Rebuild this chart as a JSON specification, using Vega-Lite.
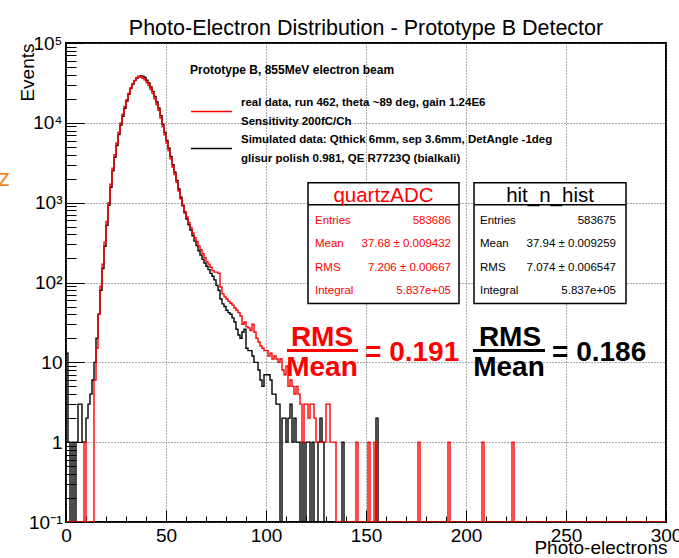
{
 "$schema": "https://vega.github.io/schema/vega-lite/v6.json",
 "width": 600,
 "height": 479,
 "autosize": {"type": "none"},
 "padding": {"left": 66, "top": 43, "right": 13, "bottom": 36},
 "background": "white",
 "title": {"text": "Photo-Electron Distribution - Prototype B Detector", "font": "Liberation Sans", "fontSize": 21.5, "fontWeight": "normal", "color": "#000", "anchor": "middle", "frame": "group", "offset": -5},
 "data": {"values": [
{"x":0,"r":0,"b":13},{"x":1,"r":0,"b":1},{"x":2,"r":0,"b":0},{"x":3,"r":0,"b":1},{"x":4,"r":0,"b":0},{"x":5,"r":0,"b":1},{"x":6,"r":0,"b":3},{"x":7,"r":0,"b":3},{"x":8,"r":0,"b":1},{"x":9,"r":1,"b":1},
{"x":10,"r":0,"b":2},{"x":11,"r":0,"b":3},{"x":12,"r":0,"b":4},{"x":13,"r":0,"b":6},{"x":14,"r":6,"b":10},{"x":15,"r":15,"b":20},{"x":16,"r":40,"b":40},{"x":17,"r":90,"b":80},{"x":18,"r":170,"b":150},{"x":19,"r":320,"b":285},
{"x":20,"r":580,"b":520},{"x":21,"r":1000,"b":930},{"x":22,"r":1700,"b":1560},{"x":23,"r":2700,"b":2500},{"x":24,"r":4000,"b":3700},{"x":25,"r":5600,"b":5200},{"x":26,"r":7600,"b":7150},{"x":27,"r":10000,"b":9400},{"x":28,"r":12800,"b":12100},{"x":29,"r":16000,"b":15200},
{"x":30,"r":19500,"b":18800},{"x":31,"r":23500,"b":22700},{"x":32,"r":27500,"b":26800},{"x":33,"r":31000,"b":30500},{"x":34,"r":34000,"b":33800},{"x":35,"r":36500,"b":36500},{"x":36,"r":38000,"b":38000},{"x":37,"r":37500,"b":38800},{"x":38,"r":36000,"b":38500},{"x":39,"r":34500,"b":36900},
{"x":40,"r":32000,"b":34200},{"x":41,"r":29500,"b":31600},{"x":42,"r":26300,"b":28100},{"x":43,"r":23200,"b":24800},{"x":44,"r":20000,"b":21400},{"x":45,"r":17000,"b":18200},{"x":46,"r":14400,"b":15400},{"x":47,"r":11500,"b":12300},{"x":48,"r":9000,"b":9600},{"x":49,"r":7100,"b":7600},
{"x":50,"r":5600,"b":6000},{"x":51,"r":4500,"b":4800},{"x":52,"r":3550,"b":3800},{"x":53,"r":2800,"b":3000},{"x":54,"r":2250,"b":2400},{"x":55,"r":1800,"b":1900},{"x":56,"r":1400,"b":1480},{"x":57,"r":1120,"b":1170},{"x":58,"r":910,"b":930},{"x":59,"r":776,"b":745},
{"x":60,"r":660,"b":625},{"x":61,"r":562,"b":530},{"x":62,"r":490,"b":455},{"x":63,"r":417,"b":385},{"x":64,"r":363,"b":330},{"x":65,"r":324,"b":290},{"x":66,"r":288,"b":250},{"x":67,"r":257,"b":220},{"x":68,"r":229,"b":195},{"x":69,"r":204,"b":175},
{"x":70,"r":182,"b":160},{"x":71,"r":170,"b":145},{"x":72,"r":155,"b":130},{"x":73,"r":141,"b":120},{"x":74,"r":135,"b":108},{"x":75,"r":135,"b":92},{"x":76,"r":130,"b":80},{"x":77,"r":88,"b":62},{"x":78,"r":72,"b":54},{"x":79,"r":66,"b":50},
{"x":80,"r":62,"b":45},{"x":81,"r":58,"b":42},{"x":82,"r":55,"b":40},{"x":83,"r":52,"b":36},{"x":84,"r":48,"b":32},{"x":85,"r":45,"b":26},{"x":86,"r":42,"b":22},{"x":87,"r":38,"b":20},{"x":88,"r":30,"b":24},{"x":89,"r":32,"b":26},
{"x":90,"r":28,"b":15},{"x":91,"r":27,"b":14},{"x":92,"r":25,"b":14},{"x":93,"r":30,"b":12},{"x":94,"r":24,"b":10},{"x":95,"r":20,"b":10},{"x":96,"r":18,"b":8},{"x":97,"r":16,"b":6},{"x":98,"r":15,"b":5},{"x":99,"r":14,"b":7},
{"x":100,"r":14,"b":7},{"x":101,"r":12,"b":7},{"x":102,"r":13,"b":6},{"x":103,"r":11,"b":4},{"x":104,"r":12,"b":4},{"x":105,"r":11,"b":3},{"x":106,"r":10,"b":3},{"x":107,"r":11,"b":0},{"x":108,"r":8,"b":2},{"x":109,"r":7,"b":2},
{"x":110,"r":9,"b":1},{"x":111,"r":5,"b":2},{"x":112,"r":6,"b":3},{"x":113,"r":5,"b":1},{"x":114,"r":4,"b":2},{"x":115,"r":5,"b":1},{"x":116,"r":4,"b":1},{"x":117,"r":3,"b":0},{"x":118,"r":1,"b":1},{"x":119,"r":3,"b":0},
{"x":120,"r":3,"b":1},{"x":121,"r":2,"b":1},{"x":122,"r":3,"b":0},{"x":123,"r":3,"b":1},{"x":124,"r":2,"b":0},{"x":125,"r":1,"b":0},{"x":126,"r":1,"b":1},{"x":127,"r":1,"b":2},{"x":128,"r":1,"b":1},{"x":129,"r":1,"b":0},
{"x":130,"r":3,"b":0},{"x":131,"r":3,"b":0},{"x":132,"r":1,"b":0},{"x":133,"r":1,"b":0},{"x":134,"r":1,"b":0},{"x":135,"r":0,"b":0},{"x":136,"r":0,"b":0},{"x":137,"r":0,"b":0},{"x":138,"r":0,"b":1},{"x":139,"r":0,"b":0},
{"x":140,"r":0,"b":0},{"x":141,"r":0,"b":0},{"x":142,"r":0,"b":0},{"x":143,"r":0,"b":0},{"x":144,"r":0,"b":0},{"x":145,"r":1,"b":0},{"x":146,"r":0,"b":0},{"x":147,"r":0,"b":0},{"x":148,"r":0,"b":0},{"x":149,"r":0,"b":0},
{"x":150,"r":0,"b":0},{"x":151,"r":1,"b":0},{"x":152,"r":0,"b":0},{"x":153,"r":0,"b":0},{"x":154,"r":1,"b":0},{"x":155,"r":0,"b":2},{"x":156,"r":0,"b":0},{"x":157,"r":0,"b":0},{"x":158,"r":0,"b":0},{"x":159,"r":0,"b":0},
{"x":160,"r":0,"b":0},{"x":161,"r":0,"b":0},{"x":162,"r":0,"b":0},{"x":163,"r":0,"b":0},{"x":164,"r":0,"b":0},{"x":165,"r":0,"b":0},{"x":166,"r":0,"b":0},{"x":167,"r":0,"b":0},{"x":168,"r":0,"b":0},{"x":169,"r":0,"b":0},
{"x":170,"r":0,"b":0},{"x":171,"r":0,"b":0},{"x":172,"r":0,"b":0},{"x":173,"r":0,"b":0},{"x":174,"r":0,"b":0},{"x":175,"r":0,"b":0},{"x":176,"r":1,"b":0},{"x":177,"r":0,"b":0},{"x":178,"r":0,"b":0},{"x":179,"r":0,"b":0},
{"x":180,"r":0,"b":0},{"x":181,"r":0,"b":0},{"x":182,"r":0,"b":0},{"x":183,"r":0,"b":0},{"x":184,"r":0,"b":0},{"x":185,"r":0,"b":0},{"x":186,"r":0,"b":0},{"x":187,"r":0,"b":0},{"x":188,"r":0,"b":0},{"x":189,"r":0,"b":0},
{"x":190,"r":0,"b":0},{"x":191,"r":1,"b":0},{"x":192,"r":0,"b":0},{"x":193,"r":0,"b":0},{"x":194,"r":0,"b":0},{"x":195,"r":0,"b":0},{"x":196,"r":0,"b":0},{"x":197,"r":0,"b":0},{"x":198,"r":0,"b":0},{"x":199,"r":0,"b":0},
{"x":200,"r":0,"b":0},{"x":201,"r":0,"b":0},{"x":202,"r":0,"b":0},{"x":203,"r":0,"b":0},{"x":204,"r":0,"b":0},{"x":205,"r":0,"b":0},{"x":206,"r":0,"b":0},{"x":207,"r":0,"b":0},{"x":208,"r":1,"b":0},{"x":209,"r":0,"b":0},
{"x":210,"r":0,"b":0},{"x":211,"r":0,"b":0},{"x":212,"r":0,"b":0},{"x":213,"r":0,"b":0},{"x":214,"r":0,"b":0},{"x":215,"r":0,"b":0},{"x":216,"r":0,"b":0},{"x":217,"r":0,"b":0},{"x":218,"r":0,"b":0},{"x":219,"r":0,"b":0},
{"x":220,"r":0,"b":0},{"x":221,"r":0,"b":0},{"x":222,"r":0,"b":0},{"x":223,"r":1,"b":0},{"x":224,"r":0,"b":0},{"x":225,"r":0,"b":0},{"x":226,"r":0,"b":0},{"x":227,"r":0,"b":0},{"x":228,"r":0,"b":0},{"x":229,"r":0,"b":0},
{"x":230,"r":0,"b":0},{"x":231,"r":0,"b":0},{"x":232,"r":0,"b":0},{"x":233,"r":0,"b":0},{"x":234,"r":0,"b":0},{"x":235,"r":0,"b":0},{"x":236,"r":0,"b":0},{"x":237,"r":0,"b":0},{"x":238,"r":0,"b":0},{"x":239,"r":0,"b":0},
{"x":240,"r":0,"b":0},{"x":241,"r":0,"b":0},{"x":242,"r":0,"b":0},{"x":243,"r":0,"b":0},{"x":244,"r":0,"b":0},{"x":245,"r":0,"b":0},{"x":246,"r":0,"b":0},{"x":247,"r":0,"b":0},{"x":248,"r":0,"b":0},{"x":249,"r":0,"b":0},
{"x":250,"r":0,"b":0},{"x":251,"r":0,"b":0},{"x":252,"r":0,"b":0},{"x":253,"r":0,"b":0},{"x":254,"r":0,"b":0},{"x":255,"r":0,"b":0},{"x":256,"r":0,"b":0},{"x":257,"r":0,"b":0},{"x":258,"r":0,"b":0},{"x":259,"r":0,"b":0},
{"x":260,"r":0,"b":0},{"x":261,"r":0,"b":0},{"x":262,"r":0,"b":0},{"x":263,"r":0,"b":0},{"x":264,"r":0,"b":0},{"x":265,"r":0,"b":0},{"x":266,"r":0,"b":0},{"x":267,"r":0,"b":0},{"x":268,"r":0,"b":0},{"x":269,"r":0,"b":0},
{"x":270,"r":0,"b":0},{"x":271,"r":0,"b":0},{"x":272,"r":0,"b":0},{"x":273,"r":0,"b":0},{"x":274,"r":0,"b":0},{"x":275,"r":0,"b":0},{"x":276,"r":0,"b":0},{"x":277,"r":0,"b":0},{"x":278,"r":0,"b":0},{"x":279,"r":0,"b":0},
{"x":280,"r":0,"b":0},{"x":281,"r":0,"b":0},{"x":282,"r":0,"b":0},{"x":283,"r":0,"b":0},{"x":284,"r":0,"b":0},{"x":285,"r":0,"b":0},{"x":286,"r":0,"b":0},{"x":287,"r":0,"b":0},{"x":288,"r":0,"b":0},{"x":289,"r":0,"b":0},
{"x":290,"r":0,"b":0},{"x":291,"r":0,"b":0},{"x":292,"r":0,"b":0},{"x":293,"r":0,"b":0},{"x":294,"r":0,"b":0},{"x":295,"r":0,"b":0},{"x":296,"r":0,"b":0},{"x":297,"r":0,"b":0},{"x":298,"r":0,"b":0},{"x":299,"r":0,"b":0},
{"x":300,"r":0,"b":0}
 ]},
 "layer": [
  {
   "mark": {"type": "line", "interpolate": "step-after", "strokeWidth": 1.4, "clip": true, "invalid": "show"},
   "encoding": {
    "x": {"field": "x", "type": "quantitative", "scale": {"domain": [0, 300], "nice": false, "zero": false},
      "axis": {"orient": "bottom", "values": [0, 50, 100, 150, 200, 250, 300], "grid": true, "tickSize": -12, "labelPadding": 16, "labelFlush": false, "labelOverlap": false, "title": "Photo-electrons", "titleAnchor": "end", "titleAlign": "right", "titleBaseline": "alphabetic", "titleX": 601, "titleY": 31}},
    "y": {"field": "b", "type": "quantitative", "scale": {"type": "log", "domain": [0.1, 100000], "nice": false, "clamp": true},
      "axis": {"orient": "left", "values": [0.1, 1, 10, 100, 1000, 10000, 100000], "grid": true, "tickSize": -18, "labelPadding": 22, "labelFlush": false, "labelOverlap": false, "labelBaseline": "middle",
        "labelExpr": "datum.value == 0.1 ? '10⁻¹' : datum.value == 1 ? '1' : datum.value == 10 ? '10' : datum.value == 100 ? '10²' : datum.value == 1000 ? '10³' : datum.value == 10000 ? '10⁴' : '10⁵'",
        "title": "Events", "titleAnchor": "end", "titleAngle": 270, "titleAlign": "right", "titleBaseline": "alphabetic", "titleX": -33, "titleY": 0}},
    "color": {"datum": "sim", "type": "nominal", "scale": {"domain": ["real", "sim"], "range": ["#ff0000", "#000000"]},
      "legend": {"orient": "none", "legendX": 124, "legendY": 22, "direction": "vertical", "padding": 0,
        "title": "Prototype B, 855MeV electron beam", "titleFont": "Liberation Sans", "titleFontSize": 12, "titleFontWeight": "bold", "titleColor": "#000", "titleLimit": 600, "titlePadding": 13,
        "symbolType": "stroke", "symbolSize": 1681, "symbolStrokeWidth": 1.5,
        "labelExpr": "datum.value == 'real' ? ['real data, run 462, theta ~89 deg, gain 1.24E6', 'Sensitivity 200fC/Ch'] : ['Simulated data: Qthick 6mm, sep 3.6mm, DetAngle -1deg', 'glisur polish 0.981, QE R7723Q (bialkali)']",
        "labelFont": "Liberation Sans", "labelFontSize": 11.5, "labelFontWeight": "bold", "labelColor": "#000", "labelLimit": 700, "labelOffset": 8, "labelBaseline": "line-bottom", "rowPadding": -2}}
   }
  },
  {
   "mark": {"type": "line", "interpolate": "step-after", "strokeWidth": 1.4, "clip": true, "invalid": "show"},
   "encoding": {
    "x": {"field": "x", "type": "quantitative", "scale": {"domain": [0, 300], "nice": false, "zero": false},
      "axis": {"orient": "bottom", "values": [10, 20, 30, 40, 60, 70, 80, 90, 110, 120, 130, 140, 160, 170, 180, 190, 210, 220, 230, 240, 260, 270, 280, 290], "grid": false, "tickSize": -6, "labels": false, "title": null}},
    "y": {"field": "r", "type": "quantitative", "scale": {"type": "log", "domain": [0.1, 100000], "nice": false, "clamp": true},
      "axis": {"orient": "left", "values": [0.2, 0.3, 0.4, 0.5, 0.6, 0.7, 0.8, 0.9, 2, 3, 4, 5, 6, 7, 8, 9, 20, 30, 40, 50, 60, 70, 80, 90, 200, 300, 400, 500, 600, 700, 800, 900, 2000, 3000, 4000, 5000, 6000, 7000, 8000, 9000, 20000, 30000, 40000, 50000, 60000, 70000, 80000, 90000], "grid": false, "tickSize": -10, "labels": false, "title": null}},
    "color": {"datum": "real", "type": "nominal"}
   }
  },
  {
   "data": {"values": [{}]},
   "mark": {"type": "rect", "fill": "#ffffff", "stroke": "#000", "strokeWidth": 1.5},
   "encoding": {"x": {"datum": 121, "type": "quantitative", "axis": null}, "x2": {"datum": 196.5}, "y": {"datum": 1778, "type": "quantitative", "axis": null}, "y2": {"datum": 54.6}}
  },
  {
   "data": {"values": [{}]},
   "mark": {"type": "rule", "stroke": "#000", "strokeWidth": 1.5},
   "encoding": {"x": {"datum": 121, "type": "quantitative", "axis": null}, "x2": {"datum": 196.5}, "y": {"datum": 944, "type": "quantitative", "axis": null}}
  },
  {
   "data": {"values": [{}]},
   "mark": {"type": "text", "text": "quartzADC", "font": "Liberation Sans", "fontSize": 20.5, "color": "#ff0000", "align": "center", "baseline": "alphabetic"},
   "encoding": {"x": {"datum": 158.75, "type": "quantitative", "axis": null}, "y": {"datum": 1029, "type": "quantitative", "axis": null}}
  },
  {
   "data": {"values": [{}]},
   "mark": {"type": "text", "text": ["Entries", "Mean", "RMS", "Integral"], "font": "Liberation Sans", "fontSize": 11.5, "lineHeight": 23.5, "color": "#ff0000", "align": "left", "baseline": "alphabetic"},
   "encoding": {"x": {"datum": 124.5, "type": "quantitative", "axis": null}, "y": {"datum": 546.5, "type": "quantitative", "axis": null}}
  },
  {
   "data": {"values": [{}]},
   "mark": {"type": "text", "text": ["583686", "37.68 ± 0.009432", "7.206 ± 0.00667", "5.837e+05"], "font": "Liberation Sans", "fontSize": 11.5, "lineHeight": 23.5, "color": "#ff0000", "align": "right", "baseline": "alphabetic"},
   "encoding": {"x": {"datum": 192.5, "type": "quantitative", "axis": null}, "y": {"datum": 546.5, "type": "quantitative", "axis": null}}
  },
  {
   "data": {"values": [{}]},
   "mark": {"type": "rect", "fill": "#ffffff", "stroke": "#000", "strokeWidth": 1.5},
   "encoding": {"x": {"datum": 204, "type": "quantitative", "axis": null}, "x2": {"datum": 280}, "y": {"datum": 1778, "type": "quantitative", "axis": null}, "y2": {"datum": 54.6}}
  },
  {
   "data": {"values": [{}]},
   "mark": {"type": "rule", "stroke": "#000", "strokeWidth": 1.5},
   "encoding": {"x": {"datum": 204, "type": "quantitative", "axis": null}, "x2": {"datum": 280}, "y": {"datum": 944, "type": "quantitative", "axis": null}}
  },
  {
   "data": {"values": [{}]},
   "mark": {"type": "text", "text": "hit_n_hist", "font": "Liberation Sans", "fontSize": 20.5, "color": "#000", "align": "center", "baseline": "alphabetic"},
   "encoding": {"x": {"datum": 242, "type": "quantitative", "axis": null}, "y": {"datum": 1029, "type": "quantitative", "axis": null}}
  },
  {
   "data": {"values": [{}]},
   "mark": {"type": "text", "text": ["Entries", "Mean", "RMS", "Integral"], "font": "Liberation Sans", "fontSize": 11.5, "lineHeight": 23.5, "color": "#000", "align": "left", "baseline": "alphabetic"},
   "encoding": {"x": {"datum": 207, "type": "quantitative", "axis": null}, "y": {"datum": 546.5, "type": "quantitative", "axis": null}}
  },
  {
   "data": {"values": [{}]},
   "mark": {"type": "text", "text": ["583675", "37.94 ± 0.009259", "7.074 ± 0.006547", "5.837e+05"], "font": "Liberation Sans", "fontSize": 11.5, "lineHeight": 23.5, "color": "#000", "align": "right", "baseline": "alphabetic"},
   "encoding": {"x": {"datum": 275, "type": "quantitative", "axis": null}, "y": {"datum": 546.5, "type": "quantitative", "axis": null}}
  },
  {
   "data": {"values": [{}]},
   "mark": {"type": "text", "text": "RMS", "font": "Liberation Sans", "fontSize": 28, "fontWeight": "bold", "color": "#ff0000", "align": "center", "baseline": "alphabetic"},
   "encoding": {"x": {"datum": 128, "type": "quantitative", "axis": null}, "y": {"datum": 15.85, "type": "quantitative", "axis": null}}
  },
  {
   "data": {"values": [{}]},
   "mark": {"type": "rule", "stroke": "#ff0000", "strokeWidth": 3},
   "encoding": {"x": {"datum": 110.5, "type": "quantitative", "axis": null}, "x2": {"datum": 146}, "y": {"datum": 14.1, "type": "quantitative", "axis": null}}
  },
  {
   "data": {"values": [{}]},
   "mark": {"type": "text", "text": "Mean", "font": "Liberation Sans", "fontSize": 28, "fontWeight": "bold", "color": "#ff0000", "align": "center", "baseline": "alphabetic"},
   "encoding": {"x": {"datum": 128, "type": "quantitative", "axis": null}, "y": {"datum": 6.68, "type": "quantitative", "axis": null}}
  },
  {
   "data": {"values": [{}]},
   "mark": {"type": "text", "text": "= 0.191", "font": "Liberation Sans", "fontSize": 28, "fontWeight": "bold", "color": "#ff0000", "align": "left", "baseline": "alphabetic"},
   "encoding": {"x": {"datum": 149.5, "type": "quantitative", "axis": null}, "y": {"datum": 10.44, "type": "quantitative", "axis": null}}
  },
  {
   "data": {"values": [{}]},
   "mark": {"type": "text", "text": "RMS", "font": "Liberation Sans", "fontSize": 28, "fontWeight": "bold", "color": "#000", "align": "center", "baseline": "alphabetic"},
   "encoding": {"x": {"datum": 222, "type": "quantitative", "axis": null}, "y": {"datum": 15.85, "type": "quantitative", "axis": null}}
  },
  {
   "data": {"values": [{}]},
   "mark": {"type": "rule", "stroke": "#000", "strokeWidth": 3},
   "encoding": {"x": {"datum": 203.5, "type": "quantitative", "axis": null}, "x2": {"datum": 239.5}, "y": {"datum": 14.1, "type": "quantitative", "axis": null}}
  },
  {
   "data": {"values": [{}]},
   "mark": {"type": "text", "text": "Mean", "font": "Liberation Sans", "fontSize": 28, "fontWeight": "bold", "color": "#000", "align": "center", "baseline": "alphabetic"},
   "encoding": {"x": {"datum": 221.5, "type": "quantitative", "axis": null}, "y": {"datum": 6.68, "type": "quantitative", "axis": null}}
  },
  {
   "data": {"values": [{}]},
   "mark": {"type": "text", "text": "= 0.186", "font": "Liberation Sans", "fontSize": 28, "fontWeight": "bold", "color": "#000", "align": "left", "baseline": "alphabetic"},
   "encoding": {"x": {"datum": 243, "type": "quantitative", "axis": null}, "y": {"datum": 10.44, "type": "quantitative", "axis": null}}
  },
  {
   "data": {"values": [{}]},
   "mark": {"type": "text", "text": "z", "font": "Liberation Sans", "fontSize": 24, "color": "#f08c28", "align": "right", "baseline": "middle"},
   "encoding": {"x": {"datum": -28, "type": "quantitative", "axis": null}, "y": {"datum": 1995, "type": "quantitative", "axis": null}}
  }
 ],
 "resolve": {"axis": {"x": "independent", "y": "independent"}},
 "config": {
  "view": {"stroke": "#000", "strokeWidth": 2},
  "font": "Liberation Sans",
  "axis": {"labelFont": "Liberation Sans", "labelFontSize": 19, "labelColor": "#000", "titleFont": "Liberation Sans", "titleFontSize": 19, "titleFontWeight": "normal", "titleColor": "#000", "domain": false, "tickColor": "#000", "tickWidth": 1, "gridColor": "#555", "gridDash": [1, 2], "gridWidth": 1, "gridOpacity": 1},
  "style": {"guide-label": {"lineHeight": 19}}
 }
}
